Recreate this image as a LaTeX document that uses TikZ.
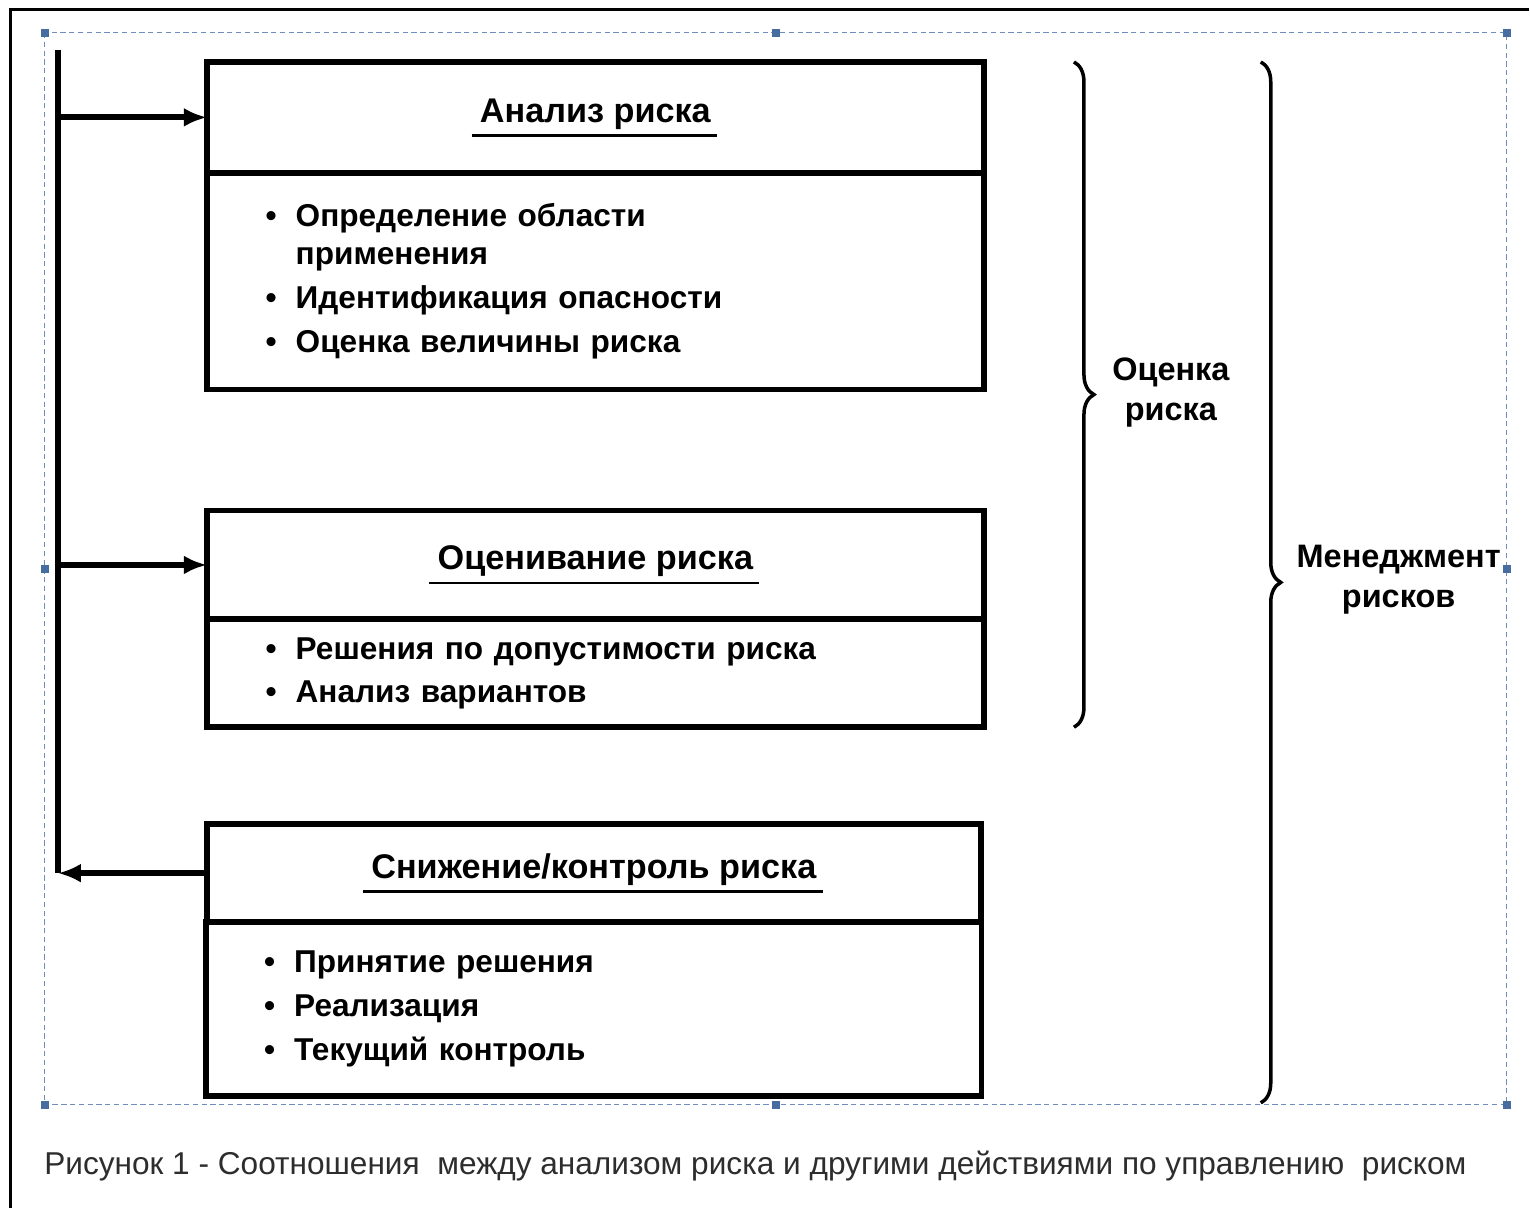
\documentclass[tikz,border=0pt]{standalone}
\usepackage{fontspec}
\setmainfont{Liberation Sans}
\usetikzlibrary{positioning,arrows.meta,decorations.pathreplacing}

\definecolor{selblue}{RGB}{112,140,190}
\definecolor{gripblue}{RGB}{70,108,160}
\definecolor{capgray}{RGB}{45,45,45}

\newcommand{\bul}{\makebox[0.6cm][l]{\textbullet}}
\newcommand{\nobul}{\hspace*{0.6cm}}

\tikzset{
  hdr/.style={draw, line width=3.3pt, outer sep=0pt, anchor=north west,
    minimum width=15.56cm},
  lst/.style={draw, line width=3.3pt, outer sep=0pt, align=left,
    inner xsep=1.16cm, text width=13.2cm, minimum width=15.56cm,
    font=\bfseries\fontsize{18}{21.5}\selectfont},
  ttl/.style={inner sep=0pt, anchor=base, font=\bfseries\fontsize{19.5}{22}\selectfont},
  uln/.style={line width=1.6pt},
  busline/.style={line width=3.3pt},
  arr/.style={line width=3.3pt, -{Latex[length=0.46cm,width=0.38cm]}},
  brc/.style={line width=2pt, decorate, decoration={brace, amplitude=0.4cm}},
  brlabel/.style={align=center, font=\bfseries\fontsize{18.5}{22.7}\selectfont},
  selframe/.style={selblue, line width=0.6pt, dash pattern=on 3pt off 2pt},
  grip/.style={fill=gripblue},
  caption/.style={anchor=west, inner sep=0pt, text=capgray, font=\fontsize{18}{20}\selectfont}
}

\begin{document}
\begin{tikzpicture}[x=0.02cm, y=-0.02cm]
% page and frame
\fill[white] (0,0) rectangle (1530,1209);
\draw[line width=1.7pt] (11,1209) -- (11,10) -- (1530,10);

% selection frame with grips
\draw[selframe] (45,33) rectangle (1508,1106);
\foreach \gx/\gy in {45/33, 777/33, 1508/33, 45/570, 1508/570, 45/1106, 777/1106, 1508/1106}
  \fill[grip] (\gx-4,\gy-4) rectangle (\gx+4,\gy+4);

% box 1
\node[hdr, minimum height=2.22cm] (h1) at (207,62) {};
\node[lst, minimum height=4.34cm, below=0pt of h1] (b1) {%
  \bul Определение области\\
  \nobul применения\\[3.4pt]
  \bul Идентификация опасности\\[3.4pt]
  \bul Оценка величины риска};
\node[ttl] (t1) at ([yshift=-0.1cm]h1.center) {Анализ риска};

% box 2
\node[hdr, minimum height=2.18cm] (h2) at (207,511) {};
\node[lst, minimum height=2.16cm, below=0pt of h2] (b2) {%
  \bul Решения по допустимости риска\\[3.4pt]
  \bul Анализ вариантов};
\node[ttl] (t2) at ([yshift=-0.1cm]h2.center) {Оценивание риска};

% box 3
\node[hdr, minimum height=1.96cm, minimum width=15.5cm] (h3) at (207,825) {};
\node[lst, minimum height=3.48cm, minimum width=15.5cm, below=0pt of h3] (b3) {%
  \bul Принятие решения\\[3.4pt]
  \bul Реализация\\[3.4pt]
  \bul Текущий контроль};
\node[ttl] (t3) at ([yshift=-0.1cm]h3.center) {Снижение/контроль риска};

% title underlines
\foreach \t in {t1,t2,t3}
  \draw[uln] ([shift={(-8,13)}]\t.base west) -- ([shift={(6,13)}]\t.base east);

% bus and arrows
\coordinate (bustop) at (58,50);
\draw[busline] (bustop) -- (h3.west -| bustop);
\draw[arr] (h1.west -| bustop) -- (h1.west);
\draw[arr] (h2.west -| bustop) -- (h2.west);
\draw[arr] (h3.west) -- (h3.west -| bustop);

% braces
\coordinate (br1) at (1075,0);
\coordinate (br2) at (1262,0);
\draw[brc] (h1.north -| br1) -- (b2.south -| br1);
\draw[brc] (h1.north -| br2) -- ([yshift=-0.14cm]b3.south -| br2);
\node[brlabel] (ocenka) at (1172,393) {Оценка\\риска};
\node[brlabel] (menedzh) at (1400,580) {Менеджмент\\рисков};

% caption
\node[caption] (cap) at (44,1167) {Рисунок 1 - Соотношения\ \ между анализом риска и другими действиями по управлению\ \ риском};
\end{tikzpicture}
\end{document}
